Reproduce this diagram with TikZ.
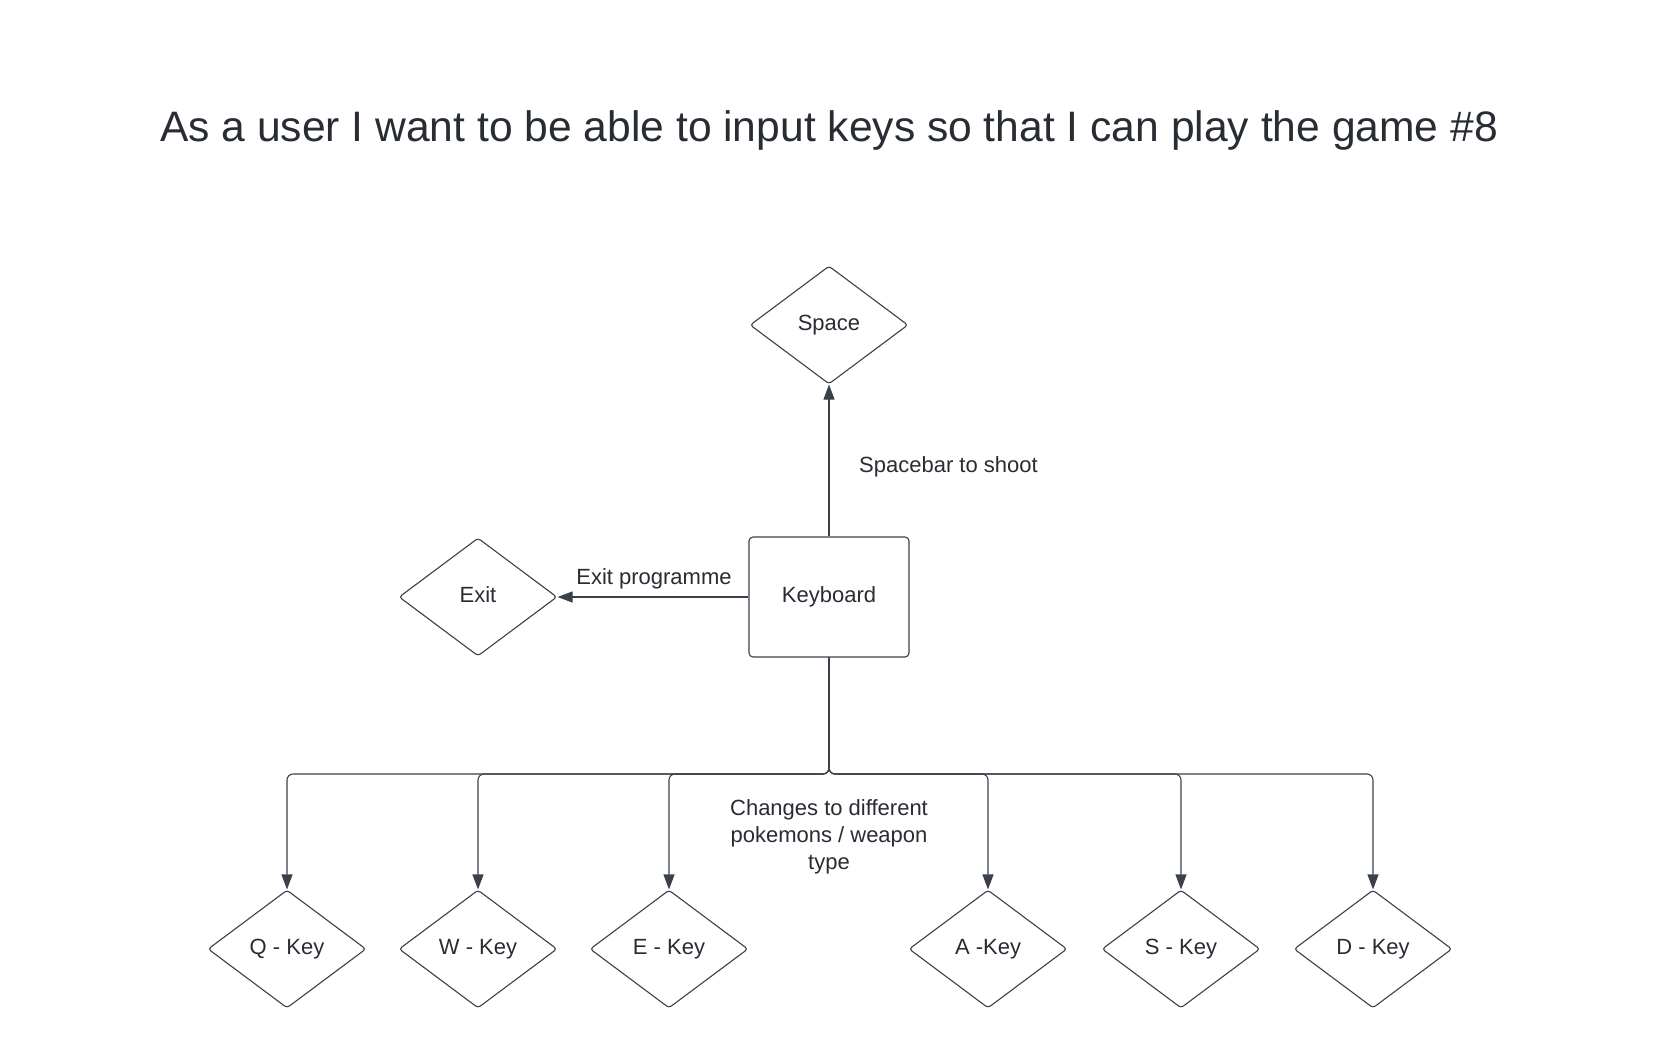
\documentclass[tikz,border=0pt]{standalone}
\usepackage{fontspec}
\setmainfont{Liberation Sans}
\usetikzlibrary{shapes.geometric,arrows.meta}
\definecolor{txt}{RGB}{40,44,51}
\definecolor{ln}{RGB}{58,65,74}
\begin{document}
\begin{tikzpicture}[x=1pt,y=-1pt,
  lfont/.style={font=\fontsize{22}{27}\selectfont},
  keyd/.style={diamond, draw=ln, line width=1.1pt, minimum width=158pt, minimum height=118pt, inner sep=0pt, rounded corners=3pt, lfont, text=txt, text height=16pt, text depth=6pt},
  kbox/.style={rectangle, draw=ln, line width=1.1pt, minimum width=160pt, minimum height=120pt, rounded corners=4pt, lfont, text=txt, text height=16pt, text depth=6pt},
  conn/.style={draw=ln, line width=1.1pt, -{Triangle[length=15pt,width=11pt]}},
  lbl/.style={lfont, text=txt, inner sep=0pt, align=center}]
\useasboundingbox[fill=white] (0,0) rectangle (1659,1050);
\node[text=txt, font=\fontsize{42.6}{50}\selectfont, anchor=base, inner sep=0pt] (title) at (829,141) {As a user I want to be able to input keys so that I can play the game \#8};

\node[kbox] (kb) at (829,597) {Keyboard};
\node[keyd] (space) at (829,325) {Space};
\node[keyd] (exit) at (478,597) {Exit};

\node[keyd] (q) at (287,949) {Q - Key};
\node[keyd] (w) at (478,949) {W - Key};
\node[keyd] (e) at (669,949) {E - Key};
\node[keyd] (a) at (988,949) {A -Key};
\node[keyd] (s) at (1181,949) {S - Key};
\node[keyd] (d) at (1373,949) {D - Key};

\coordinate (bus) at (829,774);

\draw[conn] (kb.north) -- (space.south);
\draw[conn] (kb.west) -- (exit.east);
\foreach \k in {q,w,e,a,s,d}{
  \draw[conn, rounded corners=6pt] (kb.south) -- (bus) -| (\k.north);
}

\node[lbl, anchor=west] (l1) at (859,467) {Spacebar to shoot};
\node[lbl] (l2) at (654,579) {Exit programme};
\node[lbl, anchor=north] (l3) at (829,799.5) {Changes to different\\pokemons / weapon\\type};
\end{tikzpicture}
\end{document}
